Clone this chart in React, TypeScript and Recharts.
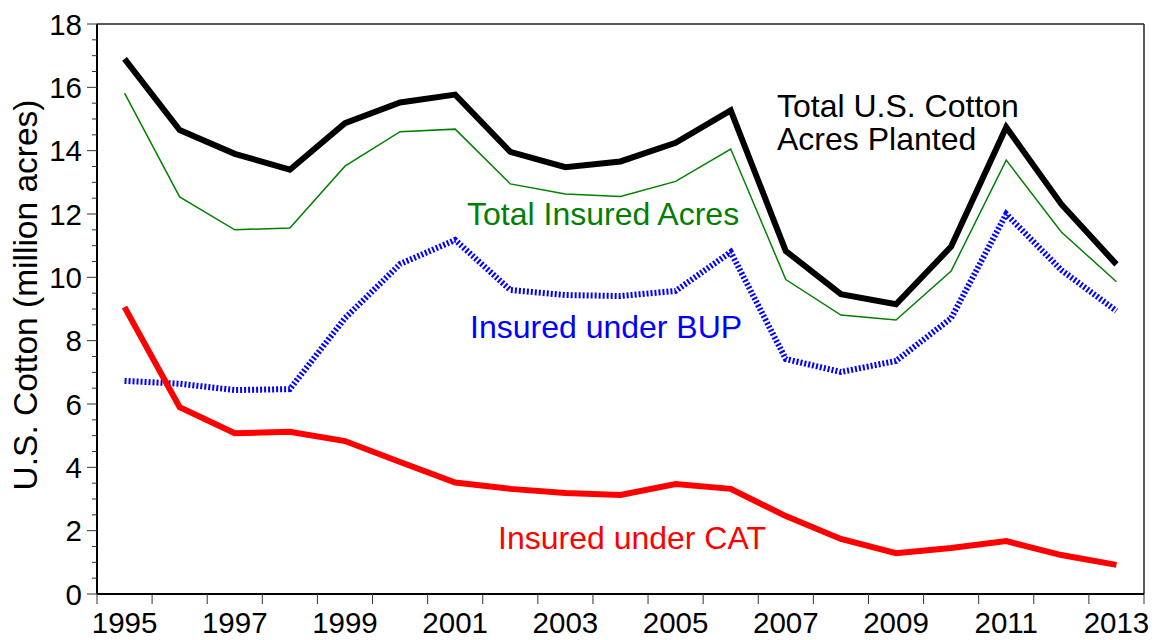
import { LineChart, Line, XAxis, YAxis, ReferenceLine } from 'recharts';

const YEARS = [1995, 1996, 1997, 1998, 1999, 2000, 2001, 2002, 2003, 2004, 2005, 2006, 2007, 2008, 2009, 2010, 2011, 2012, 2013];
const PLANTED = [16.9, 14.65, 13.9, 13.4, 14.87, 15.52, 15.77, 13.96, 13.48, 13.66, 14.25, 15.27, 10.83, 9.47, 9.15, 10.97, 14.74, 12.31, 10.41];
const INSURED = [15.82, 12.54, 11.5, 11.56, 13.51, 14.6, 14.68, 12.95, 12.63, 12.55, 13.03, 14.05, 9.93, 8.81, 8.65, 10.2, 13.7, 11.43, 9.86];
const BUP = [6.73, 6.64, 6.44, 6.47, 8.71, 10.42, 11.18, 9.6, 9.44, 9.41, 9.57, 10.8, 7.42, 7.01, 7.36, 8.71, 12.0, 10.23, 8.94];
const CAT = [9.06, 5.9, 5.08, 5.12, 4.83, 4.17, 3.52, 3.32, 3.19, 3.13, 3.47, 3.32, 2.46, 1.74, 1.29, 1.45, 1.67, 1.23, 0.92];

const X_START = 1995;
const X_END = 2014;
const Y_MAX = 18;

// year ticks sit on year boundaries, labels in the middle of odd years
const X_TICKS: number[] = [];
for (let y = X_START; y <= X_END; y++) {
  X_TICKS.push(y);
  if (y < X_END) X_TICKS.push(y + 0.5);
}
const Y_TICKS: number[] = [];
for (let v = 0; v <= Y_MAX; v += 0.5) Y_TICKS.push(v);

const data = YEARS.map((y, i) => ({
  x: y + 0.5,
  planted: PLANTED[i],
  insured: INSURED[i],
  bup: BUP[i],
  cat: CAT[i],
}));

const FONT = '"Liberation Sans", Arial, Helvetica, sans-serif';

function XTick(props: any) {
  const { x, y, payload } = props;
  const v = payload.value as number;
  if (Number.isInteger(v)) {
    return <line x1={x} x2={x} y1={y} y2={y + 10} stroke="#333" strokeWidth={1} />;
  }
  const year = Math.floor(v);
  if (year % 2 === 0) return null;
  return (
    <text x={x} y={y + 39} textAnchor="middle" fontSize={29.5} fontFamily={FONT} fill="#000">
      {year}
    </text>
  );
}

function YTick(props: any) {
  const { x, y, payload } = props;
  const v = payload.value as number;
  const major = v % 2 === 0;
  return (
    <g>
      <line x1={x - (major ? 10 : 5)} x2={x} y1={y} y2={y} stroke="#333" strokeWidth={1} />
      {major && (
        <text x={x - 15} y={y + 10.5} textAnchor="end" fontSize={29.5} fontFamily={FONT} fill="#000">
          {v}
        </text>
      )}
    </g>
  );
}

export default function App() {
  return (
    <div style={{ position: 'absolute', left: 0, top: 0, width: 1157, height: 640, background: '#fff' }}>
      <LineChart width={1157} height={640} data={data} margin={{ top: 24, right: 13, bottom: 0, left: 0 }}>
        <XAxis
          dataKey="x"
          type="number"
          domain={[X_START, X_END]}
          ticks={X_TICKS}
          interval={0}
          height={46}
          tickSize={0}
          tickMargin={0}
          tickLine={false}
          tick={<XTick />}
          axisLine={{ stroke: '#000', strokeWidth: 2 }}
        />
        <YAxis
          type="number"
          domain={[0, Y_MAX]}
          ticks={Y_TICKS}
          interval={0}
          width={97}
          tickSize={0}
          tickMargin={0}
          tickLine={false}
          tick={<YTick />}
          axisLine={{ stroke: '#000', strokeWidth: 2 }}
        />
        <ReferenceLine y={Y_MAX} stroke="#222" strokeWidth={1.5} ifOverflow="visible" />
        <ReferenceLine x={X_END} stroke="#222" strokeWidth={1.5} ifOverflow="visible" />
        <Line type="linear" dataKey="insured" stroke="#008000" strokeWidth={1.5} dot={false} isAnimationActive={false} />
        <Line type="linear" dataKey="planted" stroke="#000" strokeWidth={6} dot={false} isAnimationActive={false} />
        <Line type="linear" dataKey="bup" stroke="#0000ff" strokeWidth={6} strokeDasharray="2 2" dot={false} isAnimationActive={false} />
        <Line type="linear" dataKey="cat" stroke="#ff0000" strokeWidth={6} dot={false} isAnimationActive={false} />
      </LineChart>

      {/* annotations and axis title */}
      <svg width={1157} height={640} style={{ position: 'absolute', left: 0, top: 0, pointerEvents: 'none' }}>
        <g fontFamily={FONT} fontSize={32}>
          <text x={25} y={295} transform="rotate(-90 25 295)" textAnchor="middle" dominantBaseline="central" fontSize={33.5} fill="#000">
            U.S. Cotton (million acres)
          </text>
          <text x={777} y={117} fill="#000">Total U.S. Cotton</text>
          <text x={777} y={150} fill="#000">Acres Planted</text>
          <text x={467} y={225} fill="#008000">Total Insured Acres</text>
          <text x={470} y={338} fill="#0000ff">Insured under BUP</text>
          <text x={498} y={549} fill="#ff0000">Insured under CAT</text>
        </g>
      </svg>
    </div>
  );
}
